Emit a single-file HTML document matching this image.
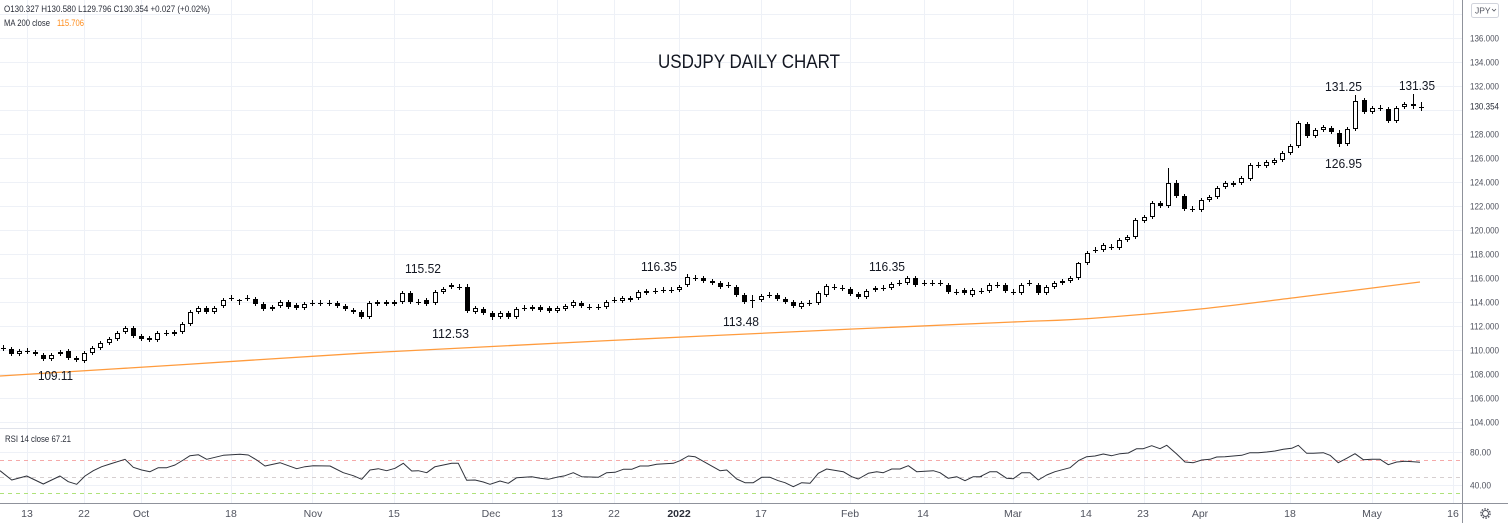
<!DOCTYPE html>
<html><head><meta charset="utf-8"><style>
html,body{margin:0;padding:0;background:#fff;width:1508px;height:523px;overflow:hidden;}
svg{display:block;}
text{font-family:"Liberation Sans",sans-serif;}
</style></head><body>
<svg id="c" width="1508" height="523" xmlns="http://www.w3.org/2000/svg">
<rect width="1508" height="523" fill="#fff"/>
<g id="grid"></g>
<!-- RSI level lines -->
<line x1="0" y1="460.5" x2="1463" y2="460.5" stroke="#f5a9a9" stroke-width="1" stroke-dasharray="4,4"/>
<line x1="0" y1="477.5" x2="1463" y2="477.5" stroke="#d6cfd0" stroke-width="1" stroke-dasharray="4,4"/>
<line x1="0" y1="493.5" x2="1463" y2="493.5" stroke="#aee27a" stroke-width="1" stroke-dasharray="4,4"/>
<g id="ma"></g>
<g id="candles"></g>
<g id="rsi"></g>
<!-- pane separators / axes -->
<line x1="0" y1="428.5" x2="1463" y2="428.5" stroke="#e0e3eb" stroke-width="1"/>
<line x1="0" y1="503.5" x2="1508" y2="503.5" stroke="#8f929b" stroke-width="1"/>
<line x1="1462.5" y1="0" x2="1462.5" y2="523" stroke="#8f929b" stroke-width="1"/>

<!-- legends -->
<text x="4" y="12" font-size="9.5" fill="#2a2e39" textLength="206" lengthAdjust="spacingAndGlyphs">O130.327  H130.580  L129.796  C130.354  +0.027 (+0.02%)</text>
<text x="4" y="26" font-size="9.5" fill="#2a2e39" textLength="46" lengthAdjust="spacingAndGlyphs">MA 200 close</text>
<text x="57" y="26" font-size="9.5" fill="#ff8c1a" textLength="27" lengthAdjust="spacingAndGlyphs">115.706</text>
<text x="5" y="442" font-size="9.5" fill="#2a2e39" textLength="66" lengthAdjust="spacingAndGlyphs">RSI 14 close  67.21</text>

<!-- title -->
<text x="658" y="68" font-size="19" fill="#131722" textLength="182" lengthAdjust="spacingAndGlyphs">USDJPY DAILY CHART</text>

<!-- annotations -->
<g font-size="13" fill="#131722">
<text x="1325" y="91" textLength="37" lengthAdjust="spacingAndGlyphs">131.25</text>
<text x="1399" y="90" textLength="36" lengthAdjust="spacingAndGlyphs">131.35</text>
<text x="1325" y="168" textLength="37" lengthAdjust="spacingAndGlyphs">126.95</text>
<text x="405" y="273" textLength="36" lengthAdjust="spacingAndGlyphs">115.52</text>
<text x="641" y="271" textLength="36" lengthAdjust="spacingAndGlyphs">116.35</text>
<text x="869" y="271" textLength="36" lengthAdjust="spacingAndGlyphs">116.35</text>
<text x="432" y="338" textLength="37" lengthAdjust="spacingAndGlyphs">112.53</text>
<text x="723" y="326" textLength="36" lengthAdjust="spacingAndGlyphs">113.48</text>
<text x="38" y="380" textLength="35" lengthAdjust="spacingAndGlyphs">109.11</text>
</g>

<!-- price axis labels -->
<g font-size="9.5" fill="#50535e">
<text x="1470" y="41.5" textLength="29" lengthAdjust="spacingAndGlyphs">136.000</text>
<text x="1470" y="65.5" textLength="29" lengthAdjust="spacingAndGlyphs">134.000</text>
<text x="1470" y="89.5" textLength="29" lengthAdjust="spacingAndGlyphs">132.000</text>
<text x="1470" y="109.5" textLength="29" lengthAdjust="spacingAndGlyphs" fill="#2a2e39">130.354</text>
<text x="1470" y="137.5" textLength="29" lengthAdjust="spacingAndGlyphs">128.000</text>
<text x="1470" y="161.5" textLength="29" lengthAdjust="spacingAndGlyphs">126.000</text>
<text x="1470" y="185.5" textLength="29" lengthAdjust="spacingAndGlyphs">124.000</text>
<text x="1470" y="209.5" textLength="29" lengthAdjust="spacingAndGlyphs">122.000</text>
<text x="1470" y="233.5" textLength="29" lengthAdjust="spacingAndGlyphs">120.000</text>
<text x="1470" y="257.5" textLength="29" lengthAdjust="spacingAndGlyphs">118.000</text>
<text x="1470" y="281.5" textLength="29" lengthAdjust="spacingAndGlyphs">116.000</text>
<text x="1470" y="305.5" textLength="29" lengthAdjust="spacingAndGlyphs">114.000</text>
<text x="1470" y="329.5" textLength="29" lengthAdjust="spacingAndGlyphs">112.000</text>
<text x="1470" y="353.5" textLength="29" lengthAdjust="spacingAndGlyphs">110.000</text>
<text x="1470" y="377.5" textLength="29" lengthAdjust="spacingAndGlyphs">108.000</text>
<text x="1470" y="401.5" textLength="29" lengthAdjust="spacingAndGlyphs">106.000</text>
<text x="1470" y="425.5" textLength="29" lengthAdjust="spacingAndGlyphs">104.000</text>
<text x="1470" y="455.5" textLength="21" lengthAdjust="spacingAndGlyphs">80.00</text>
<text x="1470" y="488.5" textLength="21" lengthAdjust="spacingAndGlyphs">40.00</text>
</g>

<!-- JPY button -->
<rect x="1471.5" y="3.5" width="27" height="14" rx="2" fill="#fff" stroke="#d1d4dc"/>
<text x="1475" y="13.5" font-size="8.5" fill="#50535e">JPY</text>
<path d="M1492 9 l2 2 l2 -2" fill="none" stroke="#50535e" stroke-width="0.8"/>

<!-- time axis labels -->
<g font-size="10.5" fill="#50535e" text-anchor="middle">
<text x="27" y="517">13</text>
<text x="84" y="517">22</text>
<text x="141" y="517">Oct</text>
<text x="231" y="517">18</text>
<text x="313" y="517">Nov</text>
<text x="394" y="517">15</text>
<text x="491" y="517">Dec</text>
<text x="557" y="517">13</text>
<text x="614" y="517">22</text>
<text x="679" y="517" font-weight="bold" fill="#2a2e39">2022</text>
<text x="761" y="517">17</text>
<text x="850" y="517">Feb</text>
<text x="923" y="517">14</text>
<text x="1013" y="517">Mar</text>
<text x="1086" y="517">14</text>
<text x="1143" y="517">23</text>
<text x="1200" y="517">Apr</text>
<text x="1290" y="517">18</text>
<text x="1372" y="517">May</text>
<text x="1453" y="517">16</text>
</g>

<!-- gear -->
<circle cx="1485.5" cy="513.5" r="3" fill="none" stroke="#50535e" stroke-width="1"/>
<circle cx="1485.5" cy="513.5" r="4.6" fill="none" stroke="#50535e" stroke-width="1.4" stroke-dasharray="1.6,1.3"/>
</svg>
<script>
(function(){
const NS='http://www.w3.org/2000/svg';
function el(tag,attrs,parent){const e=document.createElementNS(NS,tag);for(const k in attrs)e.setAttribute(k,attrs[k]);parent.appendChild(e);return e;}
const grid=document.getElementById('grid');
// vertical grid
const vi=[0,7,14,25,35,45,57,65,72,80,90,101,110,121,130,137,144,155,165,175];
vi.forEach(i=>{const x=Math.round(27+i*8.15)+0.5;el('line',{x1:x,y1:0,x2:x,y2:503,stroke:'#eef1f7','stroke-width':1},grid);});
// horizontal grid main pane
for(let y=14;y<=422;y+=24){el('line',{x1:0,y1:y+0.5,x2:1462,y2:y+0.5,stroke:'#eef1f7','stroke-width':1},grid);}
// rsi grid
[452,485].forEach(y=>el('line',{x1:0,y1:y+0.5,x2:1462,y2:y+0.5,stroke:'#eef1f7','stroke-width':1},grid));

// MA 200
const ma=[[0,376],[185,364.5],[370,352.7],[600,341],[853,329],[1013,322],[1090,318.5],[1200,309],[1300,297],[1420,282]];
// smooth via catmull-rom
let d='M'+ma[0][0]+','+ma[0][1];
for(let i=0;i<ma.length-1;i++){
 const p0=ma[Math.max(0,i-1)],p1=ma[i],p2=ma[i+1],p3=ma[Math.min(ma.length-1,i+2)];
 const c1=[p1[0]+(p2[0]-p0[0])/6,p1[1]+(p2[1]-p0[1])/6];
 const c2=[p2[0]-(p3[0]-p1[0])/6,p2[1]-(p3[1]-p1[1])/6];
 d+=' C'+c1[0].toFixed(1)+','+c1[1].toFixed(1)+' '+c2[0].toFixed(1)+','+c2[1].toFixed(1)+' '+p2[0]+','+p2[1];
}
el('path',{d:d,fill:'none',stroke:'#ff9b3d','stroke-width':1.3},document.getElementById('ma'));

// candles: [index,type,top,bottom]
const C=[
[-3,'x',348],[-2,'d',349,354],[-1,'u',351,354],[0,'x',351],[1,'d',352,354],[2,'d',355,359],[3,'u',355,359],[4,'u',352,354],[5,'d',351,358],[6,'d',358,360],
[7,'u',353,361],[8,'u',348,353],[9,'u',343,348],[10,'u',339,343],[11,'u',333,339],[12,'u',328,332],[13,'d',328,336],[14,'d',336,339],[15,'d',338,340],[16,'u',333,340],
[17,'x',333],[18,'u',332,334],[19,'u',324,332],[20,'u',312,324],[21,'u',308,312],[22,'d',308,312],[23,'u',308,312],[24,'u',300,306],[25,'x',298],[26,'x',300],
[27,'x',298],[28,'d',299,304],[29,'d',304,309],[30,'u',307,309],[31,'u',302,306],[32,'d',302,307],[33,'d',305,308],[34,'u',304,308],[35,'x',303],[36,'x',303],
[37,'x',303],[38,'d',303,306],[39,'d',306,309],[40,'d',310,312],[41,'d',312,317],[42,'u',303,317],[43,'u',302,304],[44,'d',302,304],[45,'u',302,304],[46,'u',293,302],
[47,'d',293,302],[48,'x',302],[49,'d',300,304],[50,'u',292,303],[51,'u',289,292],[52,'u',285,287],[53,'x',287],[54,'d',287,311],[55,'u',308,312],[56,'d',309,313],
[57,'d',313,317],[58,'u',313,317],[59,'d',313,317],[60,'u',309,317],[61,'x',308],[62,'u',307,309],[63,'d',307,310],[64,'d',308,311],[65,'u',308,311],[66,'u',306,309],
[67,'u',302,306],[68,'d',303,306],[69,'x',307],[70,'x',307],[71,'u',302,307],[72,'x',300],[73,'u',298,301],[74,'d',298,300],[75,'u',292,298],[76,'u',291,293],
[77,'x',291],[78,'x',290],[79,'x',290],[80,'u',287,290],[81,'u',277,285],[82,'x',278],[83,'d',278,281],[84,'d',281,283],[85,'d',283,287],[86,'x',285],
[87,'d',287,295],[88,'d',295,302],[89,'x',300],[90,'u',296,300],[91,'x',295],[92,'d',295,299],[93,'d',299,302],[94,'d',302,306],[95,'u',303,307],[96,'x',303],
[97,'u',293,303],[98,'u',286,295],[99,'x',287],[100,'x',288],[101,'d',289,294],[102,'d',294,297],[103,'u',291,297],[104,'u',288,290],[105,'x',288],[106,'u',284,288],
[107,'x',283],[108,'u',278,283],[109,'d',278,285],[110,'x',283],[111,'x',283],[112,'x',283],[113,'d',285,292],[114,'x',292],[115,'d',290,293],[116,'u',290,295],
[117,'x',291],[118,'u',285,291],[119,'x',285],[120,'d',285,291],[121,'x',292],[122,'u',285,293],[123,'x',283],[124,'d',285,293],[125,'u',287,293],[126,'u',283,287],
[127,'u',281,283],[128,'u',278,281],[129,'u',263,278],[130,'u',253,263],[131,'x',250],[132,'u',245,250],[133,'x',247],[134,'u',240,248],[135,'u',237,240],[136,'u',220,237],
[137,'u',217,221],[138,'u',203,217],[139,'d',203,206],[140,'u',183,206],[141,'d',183,196],[142,'d',196,209],[143,'x',209],[144,'u',200,210],[145,'u',197,200],[146,'u',188,197],
[147,'u',183,187],[148,'u',183,185],[149,'u',178,183],[150,'u',165,179],[151,'x',165],[152,'u',162,166],[153,'u',160,163],[154,'u',153,160],[155,'u',146,153],[156,'u',123,146],
[157,'d',124,136],[158,'u',130,136],[159,'u',127,130],[160,'d',128,132],[161,'d',133,144],[162,'u',129,144],[163,'u',101,129],[164,'d',100,112],[165,'u',108,112],[166,'x',108],
[167,'d',109,121],[168,'u',108,121],[169,'u',104,107],[170,'d',104,106],[171,'x',107]
];
const W={54:[284,313],57:[311,320],81:[274,287],89:[295,308],140:[168,208],141:[180,198],161:[130,147],163:[95,131],170:[94,109],171:[102,111],26:[299,305],6:[356,362],129:[262,280],136:[218,239]};
const cg=document.getElementById('candles');
C.forEach(c=>{
 const i=c[0],t=c[1],top=c[2],bot=(c[3]===undefined?c[2]:c[3]);
 const cx=Math.round(27+i*8.15);
 let hi,lo;
 if(W[i]){hi=W[i][0];lo=W[i][1];}else{hi=top-(t==='x'?3:2);lo=bot+(t==='x'?3:2);}
 el('line',{x1:cx+0.5,y1:hi,x2:cx+0.5,y2:lo,stroke:'#000','stroke-width':1},cg);
 if(t==='x'){
  el('line',{x1:cx-2,y1:top+0.5,x2:cx+3,y2:top+0.5,stroke:'#000','stroke-width':1},cg);
 }else if(t==='d'){
  el('rect',{x:cx-2,y:top,width:5,height:Math.max(bot-top,1),fill:'#000'},cg);
 }else{
  el('rect',{x:cx-1.5,y:top+0.5,width:4,height:Math.max(bot-top-1,1),fill:'#fff',stroke:'#000','stroke-width':1},cg);
 }
});

// RSI
const z4=[[0,152],[35,180],[80,168],[130,192],[180,168],[205,185],[230,193],[255,168],[280,152],[305,140],[330,132],[375,118],[400,142],[425,150],[450,155],[475,143],[500,143],[525,135],[550,120],[570,107],[595,104],[620,118],[645,112],[670,106],[695,104],[720,103],[745,105],[770,120],[795,138],[840,128],[890,146],[915,140],[940,137],[990,138],[1030,158],[1060,167],[1085,178],[1110,150],[1135,146],[1160,152],[1185,145],[1210,130],[1235,153],[1255,152],[1280,158],[1305,140],[1355,130],[1375,130],[1400,181],[1425,180],[1450,186]];
const z5=[[0,193],[30,183],[55,190],[80,173],[125,170],[150,175],[175,178],[200,172],[225,167],[250,158],[275,170],[325,172],[350,158],[375,157],[400,148],[425,148],[450,138],[475,138],[500,133],[550,130],[570,122],[595,108],[615,110],[690,152],[710,150],[740,177],[765,188],[790,188],[815,172],[840,172],[865,182],[885,188],[910,200],[935,188],[960,190],[985,160],[1010,147],[1060,155],[1085,170],[1105,177],[1135,160],[1160,155],[1180,158],[1205,147],[1230,147],[1255,137],[1280,155],[1330,152],[1350,158],[1375,175],[1400,170],[1425,182],[1450,170],[1475,170]];
const z6=[[0,170],[30,155],[50,155],[80,175],[100,176],[125,158],[150,158],[175,180],[200,165],[225,155],[270,143],[295,122],[320,110],[345,108],[370,102],[395,107],[420,101],[445,99],[470,86],[490,86],[515,77],[540,86],[560,76],[590,102],[615,126],[640,128],[665,120],[690,118],[710,111],[735,110],[760,108],[785,106],[810,98],[835,98],[860,96],[885,93],[910,88],[935,85],[955,76],[980,100],[1000,100],[1030,98],[1050,106],[1075,128],[1100,115],[1125,101],[1150,119],[1175,118],[1200,118],[1225,134],[1250,126],[1275,124],[1300,125],[1320,127]];
let pts=[];
z4.forEach(p=>pts.push([p[0]/3,420+p[1]/3]));
z5.forEach(p=>pts.push([490+p[0]/3,420+p[1]/3]));
z6.forEach(p=>pts.push([980+p[0]/3,420+p[1]/3]));
el('polyline',{points:pts.map(p=>p[0].toFixed(1)+','+p[1].toFixed(1)).join(' '),fill:'none',stroke:'#2f323b','stroke-width':1,'stroke-linejoin':'round'},document.getElementById('rsi'));
})();
</script>
</body></html>
